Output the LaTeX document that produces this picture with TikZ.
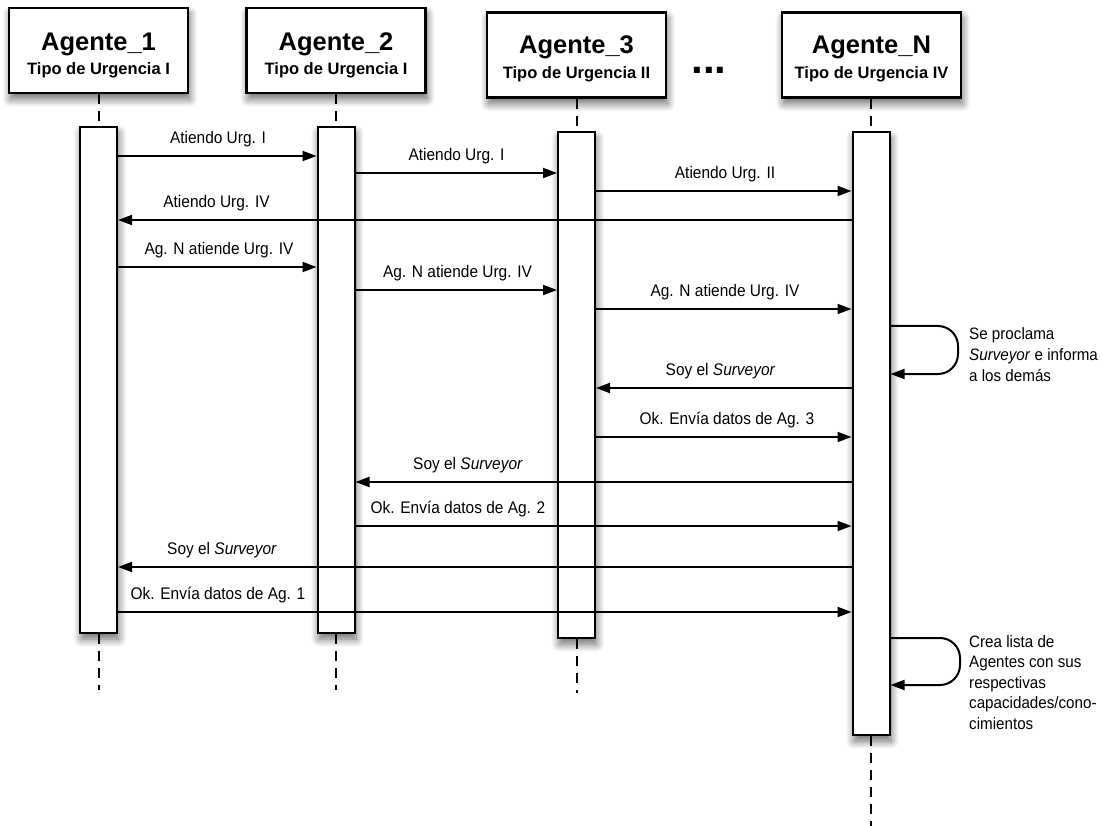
\documentclass[tikz,border=0pt]{standalone}
\usepackage{fontspec}
\setmainfont{Liberation Sans}
\newfontfamily\narrowsans[FakeStretch=0.92]{Liberation Sans}
\usetikzlibrary{arrows.meta,shadows.blur}

% one message arrow at height #3, rightwards or leftwards
\newcommand\msgR[3]{\path (0,#3) coordinate (msgy); \draw[msg] (#1.east |- msgy) -- (#2.west |- msgy);}
\newcommand\msgL[3]{\path (0,#3) coordinate (msgy); \draw[msg] (#1.west |- msgy) -- (#2.east |- msgy);}

\tikzset{
  softshadow/.style={blur shadow={shadow xshift=1.5pt, shadow yshift=-6pt,
      shadow blur radius=8pt, shadow blur steps=14, shadow opacity=60}},
  headbox/.style={draw, line width=2.5pt, fill=white, minimum width=179pt,
      minimum height=85pt, inner sep=0pt, softshadow},
  headtitle/.style={font=\bfseries\fontsize{25.5}{30}\selectfont, anchor=base, inner sep=0pt},
  headsub/.style={font=\bfseries\fontsize{16.5}{20}\selectfont, anchor=base, inner sep=0pt},
  actbar/.style={draw, line width=2pt, fill=white, minimum width=37pt,
      inner sep=0pt, anchor=north, softshadow},
  lifeline/.style={line width=2pt, dash pattern=on 10pt off 7pt},
  msg/.style={line width=2pt, -{Triangle[length=14pt,width=10pt]}},
  selfloop/.style={line width=2pt, rounded corners=20pt, -{Triangle[length=14pt,width=10pt]}},
  msglabel/.style={font=\narrowsans\fontsize{16.8}{19}\selectfont, anchor=base, inner sep=0pt},
  note/.style={font=\narrowsans\fontsize{16.5}{20.5}\selectfont, anchor=base west, inner sep=0pt},
}

\begin{document}
\begin{tikzpicture}[x=1pt, y=-1pt]
\useasboundingbox (0,0) rectangle (1103,826);

% agent heads
\node[headbox] (h1) at (98.5,50.5) {};
\node[headbox] (h2) at (336,50.5) {};
\node[headbox] (h3) at (576.5,55) {};
\node[headbox] (hN) at (871.5,55) {};
\node[headtitle] (h1t) at (98.5,50.5) {Agente\_1};
\node[headsub]   (h1s) at (98.5,74.5) {Tipo de Urgencia I};
\node[headtitle] (h2t) at (336,50.5) {Agente\_2};
\node[headsub]   (h2s) at (336,74.5) {Tipo de Urgencia I};
\node[headtitle] (h3t) at (576.5,54) {Agente\_3};
\node[headsub]   (h3s) at (576.5,78.5) {Tipo de Urgencia II};
\node[headtitle] (hNt) at (871.5,54) {Agente\_N};
\node[headsub]   (hNs) at (871.5,78.5) {Tipo de Urgencia IV};
\node[font=\bfseries\fontsize{42}{44}\selectfont, anchor=base, inner sep=0pt] (dots) at (709,74) {...};

% activation bars
\node[actbar, minimum height=506pt] (b1) at (98.5,126) {};
\node[actbar, minimum height=506pt] (b2) at (336,126) {};
\node[actbar, minimum height=506pt] (b3) at (576.5,131) {};
\node[actbar, minimum height=603pt] (bN) at (871,131) {};

% lifelines
\coordinate (e1) at (98.5,690);
\coordinate (e2) at (336,690);
\coordinate (e3) at (576.5,693);
\coordinate (eN) at (871,826);
\draw[lifeline] (h1.south) -- (b1.north);
\draw[lifeline] (h2.south) -- (b2.north);
\draw[lifeline] (h3.south) -- (b3.north);
\draw[lifeline] (hN.south -| bN.north) -- (bN.north);
\draw[lifeline] (b1.south) -- (e1);
\draw[lifeline] (b2.south) -- (e2);
\draw[lifeline] (b3.south) -- (e3);
\draw[lifeline] (bN.south) -- (eN);

% messages
\msgR{b1}{b2}{156}
\node[msglabel] (l1) at (218,143.5) {Atiendo Urg. I};
\msgR{b2}{b3}{173}
\node[msglabel] (l2) at (456.5,160.5) {Atiendo Urg. I};
\msgR{b3}{bN}{191}
\node[msglabel] (l3) at (725,178.5) {Atiendo Urg. II};
\msgL{bN}{b1}{220}
\node[msglabel] (l4) at (216.5,207.5) {Atiendo Urg. IV};
\msgR{b1}{b2}{267}
\node[msglabel] (l5) at (219,254.5) {Ag. N atiende Urg. IV};
\msgR{b2}{b3}{290}
\node[msglabel] (l6) at (457.5,277.5) {Ag. N atiende Urg. IV};
\msgR{b3}{bN}{309}
\node[msglabel] (l7) at (725,296.5) {Ag. N atiende Urg. IV};

% self message: proclaims itself surveyor
\path (0,326) coordinate (s1a) (958,0) coordinate (s1x) (0,374) coordinate (s1b);
\draw[selfloop] (bN.east |- s1a) -- (s1x |- s1a) -- (s1x |- s1b) -- (bN.east |- s1b);
\node[note] (n1) at (969,340) {\begin{tabular}[t]{@{}l@{}}Se proclama\\\textit{Surveyor} e informa\\a los demás\end{tabular}};

\msgL{bN}{b3}{388}
\node[msglabel] (l9) at (720.5,375.5) {Soy el \textit{Surveyor}};
\msgR{b3}{bN}{437}
\node[msglabel] (l10) at (727,424.5) {Ok. Envía datos de Ag. 3};
\msgL{bN}{b2}{482}
\node[msglabel] (l11) at (468,469.5) {Soy el \textit{Surveyor}};
\msgR{b2}{bN}{526}
\node[msglabel] (l12) at (458,513.5) {Ok. Envía datos de Ag. 2};
\msgL{bN}{b1}{567}
\node[msglabel] (l13) at (222,554.5) {Soy el \textit{Surveyor}};
\msgR{b1}{bN}{612}
\node[msglabel] (l14) at (218,599.5) {Ok. Envía datos de Ag. 1};

% self message: builds the list of agents
\path (0,638) coordinate (s2a) (960,0) coordinate (s2x) (0,685) coordinate (s2b);
\draw[selfloop] (bN.east |- s2a) -- (s2x |- s2a) -- (s2x |- s2b) -- (bN.east |- s2b);
\node[note] (n2) at (969,647) {\begin{tabular}[t]{@{}l@{}}Crea lista de\\Agentes con sus\\respectivas\\capacidades/cono-\\cimientos\end{tabular}};
\end{tikzpicture}
\end{document}
